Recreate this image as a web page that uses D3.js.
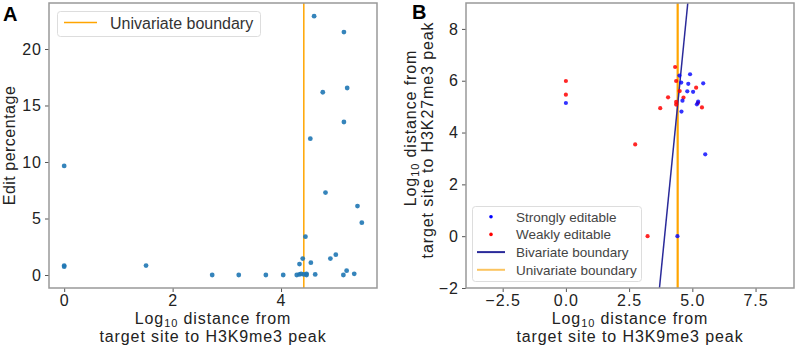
<!DOCTYPE html>
<html lang="en">
	<head>
		<meta charset="utf-8">
		<title>Edit percentage vs distance to peaks</title>
		<script type="text/javascript" src="https://cdnjs.cloudflare.com/ajax/libs/d3/7.8.5/d3.min.js"></script>
		<style type="text/css">
			body { margin: 0; background: #fff; }
			text { font-family: "Liberation Sans", Arial, sans-serif; }
		</style>
	</head>
	<body>
		<script type="text/javascript">

			var w = 796;
			var h = 349;

			// panel A: log10 distance to H3K9me3 peak vs edit percentage
			var xA = [0, 0, 0, 1.51, 2.73, 3.22, 3.72, 4.04, 4.29, 4.34, 4.37, 4.42, 4.47, 4.47, 4.63, 5.15, 5.21, 5.35,
			          4.34, 4.40, 4.45, 4.55, 4.54, 4.61, 4.77, 4.82, 4.91, 5.01, 5.16, 5.22, 5.16, 5.41, 5.49];
			var yA = [9.65, 0.83, 0.74, 0.83, 0, 0, 0, 0, 0, 0.05, 0.1, 0.05, 0.1, 0, 0.05, 0, 0.38, 0.1,
			          0.97, 1.45, 3.39, 1.09, 12.06, 22.9, 16.17, 7.29, 1.45, 1.8, 21.5, 16.55, 13.54, 6.1, 4.63];
			var univariate = 4.42;
			var xTicksA = [0, 2, 4];
			var yTicksA = [0, 5, 10, 15, 20];

			// panel B: log10 distance to H3K9me3 vs H3K27me3 peaks
			var strongX = [0, 4.49, 4.56, 4.84, 4.91, 5.43, 4.80, 5.03, 4.61, 5.18, 4.57, 5.51, 4.41, 5.23];
			var strongY = [5.14, 6.2, 5.93, 5.88, 6.25, 5.9, 5.59, 5.57, 5.23, 5.09, 4.81, 3.16, 0, 5.19];
			var weakX = [0, 0, 2.74, 3.23, 3.73, 4.04, 4.32, 4.36, 4.36, 4.36, 4.65, 5.15, 5.22, 5.38, 4.50];
			var weakY = [5.99, 5.46, 3.54, 0, 4.94, 5.36, 6.53, 5.99, 5.18, 5.08, 5.35, 5.73, 5.14, 4.97, 5.6];
			var bivarX = [3.70, 4.82];
			var bivarY = [-2, 9];
			var xTicksB = [-2.5, 0, 2.5, 5, 7.5];
			var yTicksB = [-2, 0, 2, 4, 6, 8];

			var svg = d3.select('body')
							.append('svg')
							.attr('width', w)
							.attr('height', h)

			var xScaleA = d3.scaleLinear().domain([-0.28, 5.77]).range([49, 377])
			var yScaleA = d3.scaleLinear().domain([-1.15, 24.07]).range([288, 3])

			var xScaleB = d3.scaleLinear().domain([-3.95, 9.02]).range([466, 794])
			var yScaleB = d3.scaleLinear().domain([-2, 9]).range([288, 3])

			function styleAxis(g) {
				g.selectAll('.domain').remove()
				g.selectAll('.tick line').attr('stroke', '#555').attr('stroke-width', 1)
				g.selectAll('.tick text')
					.attr('font-family', '"Liberation Sans", Arial, sans-serif')
					.attr('font-size', 16)
					.attr('letter-spacing', 1)
					.attr('fill', '#222')
			}

			function frame(xs, ys) {
				svg.append('rect')
					.attr('x', xs.range()[0])
					.attr('y', ys.range()[1])
					.attr('width', xs.range()[1] - xs.range()[0])
					.attr('height', ys.range()[0] - ys.range()[1])
					.attr('fill', 'none')
					.attr('stroke', '#999')
					.attr('stroke-width', 1.5)
			}

			// "Log10 distance from" with subscript
			function logLine(t) {
				t.append('tspan').text('Log')
				t.append('tspan').text('10').attr('font-size', 11).attr('dy', 3)
				t.append('tspan').text(' distance from').attr('dy', -3)
			}

			function label(sel) {
				return sel.attr('text-anchor', 'middle')
					.attr('font-size', 16)
					.attr('letter-spacing', 0.9)
					.attr('fill', '#222')
			}

			function xLabel(cx) {
				var t = svg.append('text').attr('x', cx).attr('y', 324).call(label)
				logLine(t)
				svg.append('text').attr('x', cx).attr('y', 342).call(label)
					.text('target site to H3K9me3 peak')
			}

			// ---------- panel A ----------
			svg.append('g')
				.attr('transform', 'translate(0,288)')
				.call(d3.axisBottom(xScaleA).tickValues(xTicksA).tickFormat(d3.format('d')).tickSize(4).tickPadding(3))
				.call(styleAxis)
			svg.append('g')
				.attr('transform', 'translate(49,0)')
				.call(d3.axisLeft(yScaleA).tickValues(yTicksA).tickFormat(d3.format('d')).tickSize(4).tickPadding(3))
				.call(styleAxis)

			svg.append('line')
				.attr('x1', xScaleA(univariate)).attr('x2', xScaleA(univariate))
				.attr('y1', 3).attr('y2', 288)
				.attr('stroke', 'orange').attr('stroke-width', 1.5)

			svg.append('g')
					.attr('fill', '#1f77b4')
				.selectAll('circle')
					.data(xA)
					.enter()
					.append('circle')
					.attr('cx', d => xScaleA(d))
					.attr('cy', (d, i) => yScaleA(yA[i]))
					.attr('r', 2.4)
					.attr('fill-opacity', 0.9)

			frame(xScaleA, yScaleA)

			// legend A
			svg.append('rect')
				.attr('x', 57.5).attr('y', 11.5).attr('width', 203).attr('height', 25).attr('rx', 3)
				.attr('fill', '#fff').attr('fill-opacity', 0.8).attr('stroke', '#ddd')
			svg.append('line')
				.attr('x1', 64).attr('x2', 97).attr('y1', 22.5).attr('y2', 22.5)
				.attr('stroke', 'orange').attr('stroke-width', 1.5)
			svg.append('text')
				.attr('x', 110).attr('y', 28.5)
				.attr('font-size', 16).attr('fill', '#333')
				.text('Univariate boundary')

			svg.append('text')
				.attr('x', 3).attr('y', 21)
				.attr('font-size', 20).attr('font-weight', 'bold')
				.text('A')

			svg.append('text')
				.attr('transform', 'translate(15,145.5) rotate(-90)')
				.call(label)
				.attr('letter-spacing', 0.5)
				.text('Edit percentage')

			xLabel(213)

			// ---------- panel B ----------
			svg.append('g')
				.attr('transform', 'translate(0,288)')
				.call(d3.axisBottom(xScaleB).tickValues(xTicksB).tickFormat(d => d3.format('.1f')(d).replace('-', '\u2212')).tickSize(4).tickPadding(3))
				.call(styleAxis)
			svg.append('g')
				.attr('transform', 'translate(466,0)')
				.call(d3.axisLeft(yScaleB).tickValues(yTicksB).tickFormat(d => String(d).replace('-', '\u2212')).tickSize(4).tickPadding(3))
				.call(styleAxis)

			svg.append('line')
				.attr('x1', xScaleB(univariate)).attr('x2', xScaleB(univariate))
				.attr('y1', 3).attr('y2', 288)
				.attr('stroke', 'orange').attr('stroke-width', 2.2)

			svg.append('line')
				.attr('x1', xScaleB(bivarX[0])).attr('y1', yScaleB(bivarY[0]))
				.attr('x2', xScaleB(bivarX[1])).attr('y2', yScaleB(bivarY[1]))
				.attr('stroke', '#2a2a9a').attr('stroke-width', 1.5)

			svg.append('g')
					.attr('fill', 'red')
				.selectAll('circle')
					.data(weakX)
					.enter()
					.append('circle')
					.attr('cx', d => xScaleB(d))
					.attr('cy', (d, i) => yScaleB(weakY[i]))
					.attr('r', 2.1)
					.attr('fill-opacity', 0.85)

			svg.append('g')
					.attr('fill', 'blue')
				.selectAll('circle')
					.data(strongX)
					.enter()
					.append('circle')
					.attr('cx', d => xScaleB(d))
					.attr('cy', (d, i) => yScaleB(strongY[i]))
					.attr('r', 2.1)
					.attr('fill-opacity', 0.8)

			frame(xScaleB, yScaleB)

			// legend B
			var legB = [
				{label: 'Strongly editable', kind: 'dot', color: 'blue'},
				{label: 'Weakly editable', kind: 'dot', color: 'red'},
				{label: 'Bivariate boundary', kind: 'line', color: '#2a2a9a'},
				{label: 'Univariate boundary', kind: 'line', color: '#fbc460'}
			]
			svg.append('rect')
				.attr('x', 472.5).attr('y', 206.5).attr('width', 169).attr('height', 75).attr('rx', 3)
				.attr('fill', '#fff').attr('fill-opacity', 0.8).attr('stroke', '#ddd')
			var rows = svg.append('g').selectAll('g')
					.data(legB)
					.enter()
					.append('g')
					.attr('transform', (d, i) => 'translate(0,' + (216.7 + i * 17.7) + ')')
			rows.filter(d => d.kind == 'dot').append('circle')
				.attr('cx', 491).attr('cy', 0).attr('r', 1.8)
				.attr('fill', d => d.color)
			rows.filter(d => d.kind == 'line').append('line')
				.attr('x1', 477).attr('x2', 505).attr('y1', 0).attr('y2', 0)
				.attr('stroke', d => d.color).attr('stroke-width', 2)
			rows.append('text')
				.attr('x', 516).attr('y', 5)
				.attr('font-size', 13.5).attr('fill', '#444')
				.text(d => d.label)

			svg.append('text')
				.attr('x', 412).attr('y', 19)
				.attr('font-size', 20).attr('font-weight', 'bold')
				.text('B')

			var yl1 = svg.append('text')
					.attr('transform', 'translate(416,128) rotate(-90)')
					.call(label)
			logLine(yl1)
			svg.append('text')
				.attr('transform', 'translate(433,140) rotate(-90)')
				.call(label)
				.text('target site to H3K27me3 peak')

			xLabel(630)
		</script>
	</body>
</html>
